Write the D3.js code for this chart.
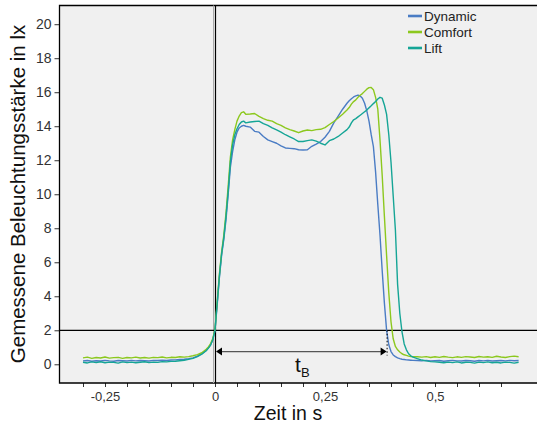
<!DOCTYPE html>
<html>
<head>
<meta charset="utf-8">
<script src="https://cdn.jsdelivr.net/npm/d3@7"></script>
<style>
  html, body { margin: 0; padding: 0; background: #ffffff; }
  svg { display: block; font-family: "Liberation Sans", Arial, sans-serif; }
</style>
</head>
<body>
<svg id="chart" width="537" height="426"></svg>
<script>
// ---------- data ----------
const time = [-0.30,-0.29,-0.28,-0.27,-0.26,-0.25,-0.24,-0.23,-0.22,-0.21,-0.20,-0.19,-0.18,-0.17,-0.16,-0.15,-0.14,-0.13,-0.12,-0.11,-0.10,-0.09,-0.08,-0.07,-0.06,
  -0.05,-0.04,-0.03,-0.02,-0.015,-0.01,-0.005,0,
  0.005,0.01,0.015,0.02,0.025,0.03,0.035,0.04,0.045,0.05,0.055,0.06,0.065,0.07,
  0.08,0.09,0.10,0.11,0.12,0.13,0.14,0.15,0.16,0.17,0.18,0.19,0.20,0.21,0.22,0.23,0.24,0.25,0.26,0.27,0.28,0.29,0.30,
  0.305,0.31,0.315,0.32,0.325,0.33,0.335,0.34,0.345,0.35,0.355,0.36,0.365,0.37,0.375,0.38,0.385,0.39,0.395,0.40,0.405,0.41,0.415,0.42,0.425,0.43,0.435,0.44,0.445,0.45,
  0.46,0.47,0.48,0.49,0.50,0.51,0.52,0.53,0.54,0.55,0.56,0.57,0.58,0.59,0.60,0.61,0.62,0.63,0.64,0.65,0.66,0.67,0.68,0.69];

const dynamic = [0.20,0.22,0.18,0.21,0.19,0.23,0.20,0.18,0.22,0.21,0.19,0.23,0.20,0.22,0.21,0.19,0.23,0.22,0.24,0.22,0.25,0.26,0.28,0.30,0.33,
  0.38,0.48,0.62,0.82,0.97,1.15,1.45,2.0,
  3.5,5.1,6.4,7.35,8.5,10.0,11.6,12.5,13.2,13.65,13.9,14.0,14.05,14.0,
  13.95,13.7,13.65,13.4,13.2,13.1,13.0,12.85,12.72,12.7,12.68,12.62,12.6,12.62,12.82,12.95,13.1,13.35,13.7,14.2,14.6,15.0,15.35,
  15.5,15.62,15.72,15.78,15.83,15.78,15.65,15.35,14.9,14.3,13.5,12.8,11.3,9.4,7.6,5.5,3.6,2.0,1.15,0.75,0.55,0.45,0.38,0.33,0.30,0.28,0.26,0.25,0.24,0.23,
  0.22,0.20,0.23,0.19,0.21,0.22,0.18,0.21,0.23,0.20,0.19,0.22,0.21,0.18,0.22,0.20,0.23,0.19,0.21,0.22,0.20,0.23,0.21,0.22];

const comfort = [0.38,0.42,0.35,0.40,0.37,0.43,0.36,0.39,0.41,0.35,0.40,0.38,0.42,0.37,0.40,0.36,0.41,0.39,0.43,0.38,0.41,0.40,0.44,0.42,0.45,
  0.50,0.57,0.68,0.88,1.02,1.22,1.52,2.05,
  3.7,5.3,6.6,7.6,8.9,10.5,12.2,13.2,13.8,14.3,14.6,14.8,14.85,14.7,
  14.72,14.75,14.58,14.45,14.35,14.3,14.15,14.05,13.9,13.8,13.72,13.62,13.72,13.78,13.74,13.8,13.82,13.92,14.1,14.28,14.48,14.7,14.95,
  15.1,15.3,15.45,15.55,15.7,15.82,15.92,16.05,16.18,16.27,16.28,16.15,15.7,15.0,13.2,11.1,8.7,6.4,4.2,2.5,1.5,1.05,0.85,0.72,0.62,0.56,0.52,0.48,0.46,0.45,
  0.44,0.42,0.45,0.40,0.44,0.41,0.46,0.42,0.39,0.44,0.41,0.45,0.43,0.40,0.46,0.42,0.44,0.41,0.47,0.43,0.40,0.45,0.48,0.44];

const lift = [0.12,0.08,0.14,0.10,0.15,0.09,0.13,0.11,0.07,0.14,0.10,0.13,0.09,0.12,0.15,0.10,0.13,0.11,0.16,0.14,0.17,0.18,0.21,0.24,0.29,
  0.35,0.45,0.6,0.8,0.95,1.13,1.45,2.0,
  3.6,5.2,6.5,7.45,8.7,10.2,11.9,12.9,13.5,13.85,14.1,14.25,14.3,14.2,
  14.25,14.28,14.3,14.15,14.05,13.9,13.78,13.65,13.5,13.38,13.25,13.1,13.1,13.15,13.2,13.12,13.0,12.9,13.15,13.25,13.4,13.6,13.8,
  13.95,14.2,14.38,14.45,14.55,14.65,14.75,14.85,14.95,15.08,15.2,15.33,15.45,15.6,15.7,15.65,15.25,14.7,13.5,11.9,9.9,7.9,4.7,3.0,1.9,1.2,0.85,0.62,0.5,0.42,
  0.33,0.25,0.20,0.16,0.14,0.12,0.09,0.13,0.10,0.14,0.08,0.12,0.11,0.07,0.13,0.10,0.14,0.09,0.12,0.08,0.13,0.11,0.07,0.12];

const seriesNames = ["Dynamic", "Comfort", "Lift"];
const seriesColors = ["#4a7cc4", "#8cc81e", "#15a596"];
const yTicks = [0, 2, 4, 6, 8, 10, 12, 14, 16, 18, 20];
const xMinorTicks = [-0.30,-0.25,-0.20,-0.15,-0.10,-0.05,0,0.05,0.10,0.15,0.20,0.25,0.30,0.35,0.40,0.45,0.50,0.55,0.60,0.65];
const xLabelTicks = [-0.25, 0, 0.25, 0.5];
const thresholdValue = 2;      // horizontal reference line
const tBStart = 0, tBEnd = 0.39, tBLevel = 0.75;

// ---------- layout ----------
const svg = d3.select("#chart");
const plot = { left: 59.5, top: 5.5, right: 537, bottom: 383 };

const x = d3.scaleLinear().domain([-0.25, 0.5]).range([105, 435]);
const y = d3.scaleLinear().domain([-1.1, 21.1]).range([plot.bottom, plot.top]);

const de = d3.formatLocale({ decimal: ",", thousands: ".", grouping: [3], currency: ["", " €"], minus: "-" });
const fmt = v => v === 0 ? "0" : de.format("~g")(v);

// background
svg.append("rect")
  .attr("x", plot.left).attr("y", plot.top)
  .attr("width", plot.right - plot.left).attr("height", plot.bottom - plot.top)
  .attr("fill", "#f0f0f0");

// clip
svg.append("clipPath").attr("id", "clip").append("rect")
  .attr("x", plot.left).attr("y", plot.top)
  .attr("width", plot.right - plot.left).attr("height", plot.bottom - plot.top);

// Y axis
const yAxis = d3.axisLeft(y).tickValues(yTicks).tickSize(5).tickPadding(3).tickFormat(d => d);
const gy = svg.append("g").attr("transform", `translate(${plot.left},0)`).call(yAxis);
gy.select(".domain").remove();
gy.selectAll("line").attr("stroke", "#333");
gy.selectAll("text").attr("font-size", 14).attr("fill", "#333").attr("font-family", "Liberation Sans, Arial, sans-serif");

// X axis minor ticks
const xAxis = d3.axisBottom(x).tickValues(xMinorTicks).tickSize(4).tickFormat("");
const gx = svg.append("g").attr("transform", `translate(0,${plot.bottom})`).call(xAxis);
gx.select(".domain").remove();
gx.selectAll("line").attr("stroke", "#333");
// X labels
const xLab = d3.axisBottom(x).tickValues(xLabelTicks).tickSize(0).tickPadding(9).tickFormat(fmt);
const gxl = svg.append("g").attr("transform", `translate(0,${plot.bottom})`).call(xLab);
gxl.select(".domain").remove();
gxl.selectAll("text").attr("font-size", 13).attr("fill", "#333").attr("font-family", "Liberation Sans, Arial, sans-serif");

// frame (top, left, bottom)
svg.append("path")
  .attr("d", `M${plot.right},${plot.top}H${plot.left}V${plot.bottom}H${plot.right}`)
  .attr("fill", "none").attr("stroke", "#000").attr("stroke-width", 1.3);

// reference lines
svg.append("line")
  .attr("x1", x(0) - 1.5).attr("x2", x(0) - 1.5).attr("y1", plot.top).attr("y2", plot.bottom)
  .attr("stroke", "#aaa").attr("stroke-width", 1);
svg.append("line")
  .attr("x1", x(0) + 0.5).attr("x2", x(0) + 0.5).attr("y1", plot.top).attr("y2", plot.bottom)
  .attr("stroke", "#000").attr("stroke-width", 1.2);
svg.append("line")
  .attr("x1", plot.left).attr("x2", plot.right).attr("y1", y(thresholdValue)).attr("y2", y(thresholdValue))
  .attr("stroke", "#000").attr("stroke-width", 1.2);

// series
const seriesData = [dynamic, comfort, lift];
const line = d3.line().x((d, i) => x(time[i])).y(d => y(d));
const gl = svg.append("g").attr("clip-path", "url(#clip)");
seriesData.forEach((vals, k) => {
  gl.append("path")
    .datum(vals)
    .attr("d", line)
    .attr("fill", "none")
    .attr("stroke", seriesColors[k])
    .attr("stroke-width", 1.4)
    .attr("stroke-linejoin", "round");
});

// t_B arrow
const ay = y(tBLevel);
const ax1 = x(tBStart) + 1, ax2 = x(tBEnd);
svg.append("line").attr("x1", ax1 + 5).attr("x2", ax2 - 5).attr("y1", ay).attr("y2", ay)
  .attr("stroke", "#555").attr("stroke-width", 1.3);
svg.append("path").attr("d", `M${ax1},${ay}L${ax1 + 6},${ay - 4}L${ax1 + 6},${ay + 4}Z`).attr("fill", "#000");
svg.append("path").attr("d", `M${ax2},${ay}L${ax2 - 6},${ay - 4}L${ax2 - 6},${ay + 4}Z`).attr("fill", "#000");
svg.append("line").attr("x1", ax2 + 0.5).attr("x2", ax2 + 0.5).attr("y1", y(thresholdValue)).attr("y2", ay + 4)
  .attr("stroke", "#000").attr("stroke-width", 1).attr("stroke-dasharray", "1.5,2");
const tb = svg.append("text").attr("x", x(0.182)).attr("y", 372).attr("font-size", 21).attr("fill", "#111");
tb.append("tspan").text("t");
tb.append("tspan").attr("font-size", 13).attr("dy", 5).text("B");

// axis titles
svg.append("text").attr("x", 288).attr("y", 420).attr("text-anchor", "middle")
  .attr("font-size", 19.5).attr("fill", "#111").text("Zeit in s");
svg.append("text").attr("transform", "translate(25,194) rotate(-90)").attr("text-anchor", "middle")
  .attr("font-size", 20.5).attr("fill", "#111").text("Gemessene Beleuchtungsstärke in lx");

// legend
const lg = svg.append("g");
seriesNames.forEach((n, k) => {
  const yy = 16 + k * 16;
  lg.append("line").attr("x1", 408).attr("x2", 422).attr("y1", yy).attr("y2", yy)
    .attr("stroke", seriesColors[k]).attr("stroke-width", 2.6);
  lg.append("text").attr("x", 424).attr("y", yy + 5).attr("font-size", 13.5).attr("fill", "#222").text(n);
});
</script>
</body>
</html>
